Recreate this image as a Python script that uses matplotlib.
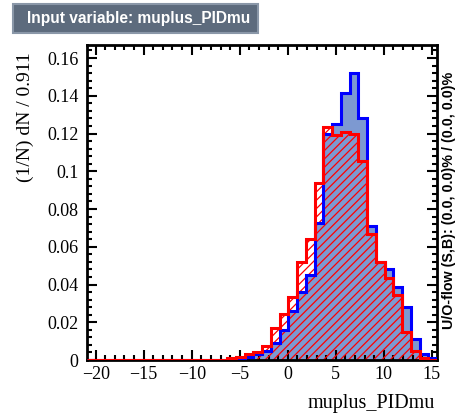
import numpy as np
import matplotlib
matplotlib.use("Agg")
import matplotlib.pyplot as plt
from matplotlib.ticker import MultipleLocator
from matplotlib.patches import FancyBboxPatch

# ---- data ----
x_min = -20.9
bin_width = 0.911
n_bins = 40
signal = [0, 0, 0, 0, 0, 0, 0, 0, 0, 0,
          0, 0, 0, 0, 0, 0, 0.0, 0.0003, 0.0018, 0.003,
          0.005, 0.009, 0.016, 0.026, 0.036, 0.045, 0.0725, 0.120, 0.125, 0.1415,
          0.152, 0.128, 0.071, 0.052, 0.048, 0.0385, 0.0283, 0.011, 0.003, 0.001]
background = [0, 0, 0, 0, 0, 0, 0, 0, 0, 0,
              0, 0, 0, 0, 0, 0, 0.0008, 0.0016, 0.0032, 0.0044,
              0.0076, 0.0168, 0.0245, 0.0335, 0.052, 0.064, 0.094, 0.1235, 0.119, 0.121,
              0.120, 0.1055, 0.067, 0.052, 0.0433, 0.0344, 0.015, 0.0049, 0.001, 0.0]
title = "Input variable: muplus_PIDmu"
xlabel = "muplus_PIDmu"
ylabel = "(1/N) dN / 0.911"
oflow = "U/O-flow (S,B): (0.0, 0.0)% / (0.0, 0.0)%"

edges = x_min + bin_width * np.arange(n_bins + 1)

plt.rcParams['hatch.linewidth'] = 0.9
plt.rcParams['font.family'] = ['Liberation Serif', 'DejaVu Serif']

fig = plt.figure(figsize=(4.57, 4.19), dpi=100)
ax = fig.add_axes([87/457, 1-360/419, 350/457, 315/419])

ax.stairs(signal, edges, fill=True, facecolor='#7d99d1', edgecolor='none', zorder=1)
ax.stairs(background, edges, fill=True, facecolor='none', edgecolor='red',
          hatch='////', linewidth=0, zorder=2)
ax.stairs(signal, edges, color='blue', linewidth=2.2, zorder=3)
ax.stairs(background, edges, color='red', linewidth=2.2, zorder=4)

ax.set_xlim(edges[0], edges[-1])
ax.set_ylim(0, 0.1669)

ax.xaxis.set_major_locator(MultipleLocator(5))
ax.xaxis.set_minor_locator(MultipleLocator(1))
ax.yaxis.set_major_locator(MultipleLocator(0.02))
ax.yaxis.set_minor_locator(MultipleLocator(0.004))
ax.tick_params(which='both', direction='in', top=True, right=True, width=1.5,
               labelsize=13)
ax.tick_params(which='major', length=7)
ax.tick_params(which='minor', length=3.5)
ax.tick_params(axis='x', pad=4)
ax.tick_params(axis='y', pad=6)
ax.yaxis.set_major_formatter(plt.FuncFormatter(lambda v, p: ('%g' % round(v, 3))))
for s in ax.spines.values():
    s.set_linewidth(2)

fig.text(25/457, 1-52/419, ylabel, rotation=90, ha='center', va='top', fontsize=14)
fig.text(435/457, 1-403/419, xlabel, ha='right', va='center', fontsize=14.5)
fig.text(448.5/457, 1-200/419, oflow, rotation=90, ha='center', va='center',
         fontsize=10.3, fontweight='bold', family=['Liberation Sans', 'DejaVu Sans'])

box = FancyBboxPatch((13/457, 1-33/419), 245/457, 29/419, boxstyle='square,pad=0',
                     transform=fig.transFigure, facecolor='#5d6b7d', edgecolor='#8a97a8',
                     linewidth=1.5)
fig.patches.append(box)
fig.text(27/457, 1-18/419, title, ha='left', va='center', color='white',
         fontsize=11.2, fontweight='bold', family=['Liberation Sans', 'DejaVu Sans'])

fig.savefig('out.png', dpi=100)
